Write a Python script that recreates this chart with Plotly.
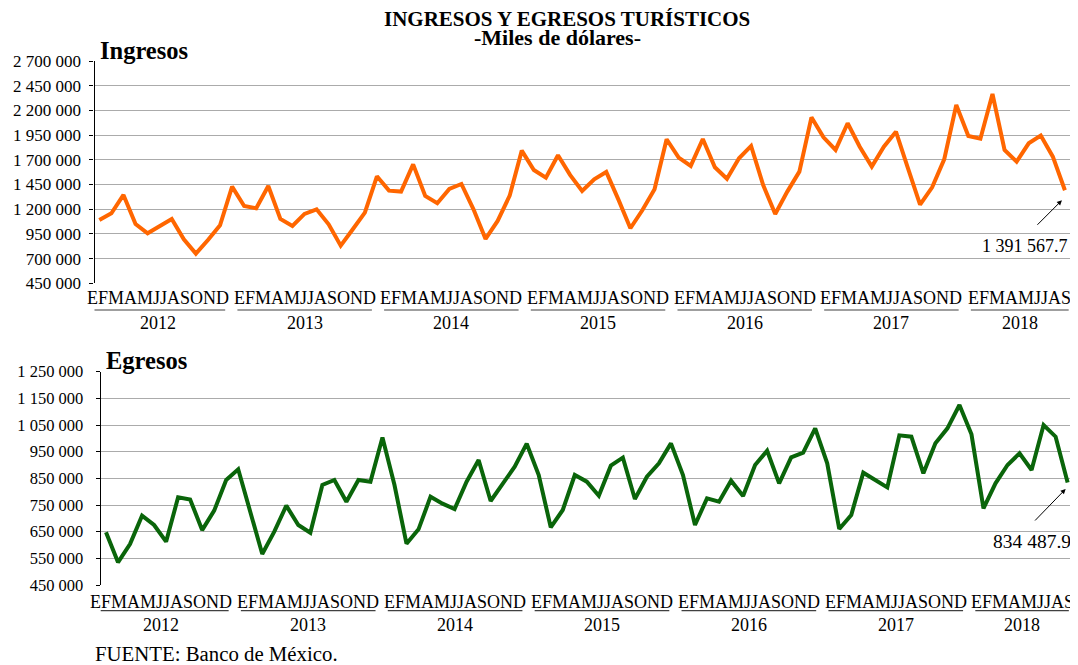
import plotly.graph_objects as go

# ---------------- data ----------------
years = ["2012", "2013", "2014", "2015", "2016", "2017", "2018"]
month_letters = ["E", "F", "M", "A", "M", "J", "J", "A", "S", "O", "N", "D"]

ingresos = [
    1091000, 1158500, 1344000, 1050600, 956000, 1033700, 1101000, 895000, 750000, 888600, 1037000, 1428000,
    1233000, 1209000, 1435000, 1101000, 1030000, 1152000, 1199000, 1047000, 831000, 996600, 1165000, 1533000,
    1388000, 1378000, 1654000, 1334000, 1260000, 1405000, 1455000, 1199000, 899000, 1081000, 1337000, 1793000,
    1597000, 1520000, 1746000, 1547000, 1385000, 1503000, 1577000, 1300000, 1007000, 1192000, 1401000, 1908000,
    1722000, 1638000, 1911000, 1624000, 1508000, 1715000, 1840000, 1445000, 1152000, 1378000, 1580000, 2130000,
    1928000, 1800000, 2070000, 1833000, 1631000, 1833000, 1985000, 1614000, 1246000, 1422000, 1705000, 2255000,
    1941000, 1914000, 2366000, 1800000, 1681000, 1867000, 1945000, 1732000, 1391567.7,
]

egresos = [
    647500, 535000, 603750, 710000, 675000, 612500, 778750, 771000, 656000, 729000, 844000, 884000,
    725000, 566000, 650000, 747500, 675000, 646000, 825000, 844000, 762500, 844000, 837500, 1003000,
    825000, 605000, 658750, 781250, 755000, 735000, 837500, 918750, 765000, 831250, 893750, 980000,
    862500, 666250, 731250, 862500, 837500, 785000, 897500, 927500, 772500, 856250, 906250, 981250,
    862500, 675000, 775000, 762500, 841250, 783750, 900000, 953750, 831250, 928750, 946250, 1037500,
    906250, 660000, 712500, 871250, 843750, 816250, 1011250, 1006250, 868750, 981250, 1037500, 1125000,
    1015000, 737500, 831250, 900000, 943750, 881250, 1050000, 1006250, 834487.9,
]

ingresos_last_label = "1 391 567.7"
egresos_last_label = "834 487.9"

# ---------------- geometry helpers ----------------
OFF = 8                      # page body margin
W, H = 1078 - OFF, 665 - OFF
FONT = "Liberation Serif, Times New Roman, serif"
ORANGE = "#FF6600"
GREEN = "#0A650A"


def fx(px):
    return (px - OFF) / W


def py(px):
    return 1 - (px - OFF) / H


n = len(ingresos)
idx = list(range(n))

groups = []
for k, yr in enumerate(years):
    m0 = 12 * k
    m1 = min(12 * k + 11, n - 1)
    groups.append((yr, m0, m1))

fig = go.Figure()
fig.add_trace(go.Scatter(x=idx, y=ingresos, mode="lines",
                         line=dict(color=ORANGE, width=4), xaxis="x", yaxis="y"))
fig.add_trace(go.Scatter(x=idx, y=egresos, mode="lines",
                         line=dict(color=GREEN, width=4), xaxis="x2", yaxis="y2"))

common_x = dict(showgrid=False, zeroline=False, showline=False,
                showticklabels=False, ticks="", automargin=False)
common_y = dict(tickformat=",d", showgrid=True, gridcolor="#ababab", gridwidth=1.3,
                showline=True, linecolor="black", linewidth=1.3, ticks="outside",
                ticklen=4, tickcolor="black", tickwidth=1.3, zeroline=False,
                automargin=False)

fig.update_layout(
    width=W, height=H, autosize=False,
    margin=dict(l=0, r=0, t=0, b=0, pad=0, autoexpand=False),
    paper_bgcolor="white", plot_bgcolor="white", showlegend=False,
    separators=". ",
    font=dict(family=FONT, color="black", size=17),
    xaxis=dict(domain=[fx(94.5), fx(1070.7)], range=[-0.4, 80.48], anchor="y", **common_x),
    yaxis=dict(domain=[py(283.3), py(61)], range=[450000, 2700000], dtick=250000,
               tick0=450000, anchor="x", tickfont=dict(size=17, family=FONT),
               ticklabelstandoff=5, **common_y),
    xaxis2=dict(domain=[fx(100.7), fx(1074)], range=[-0.44, 80.53], anchor="y2", **common_x),
    yaxis2=dict(domain=[py(585), py(371.7)], range=[450000, 1250000], dtick=100000,
                tick0=450000, anchor="x2", tickfont=dict(size=16.5, family=FONT),
                ticklabelstandoff=9, **common_y),
)

annotations = []
shapes = []

# month words, year underlines and year labels for each panel
panels = [
    # xref, offset, scale, end cap, month y, line y, year y
    ("x", -0.7125, 1.0128, n - 1 + 0.35, 298, 310, 323),
    ("x2", -0.9975, 1.0183, n - 1 + 0.1, 602, 610.7, 624.5),
]
for xref, off, sc, cap, ym, yl, yy in panels:
    for yr, m0, m1 in groups:
        x0 = off + sc * m0
        x1 = min(off + sc * m1, cap)
        xc = (x0 + x1) / 2
        word = "".join(month_letters[i % 12] for i in range(m0, m1 + 1))
        annotations.append(dict(x=xc, y=py(ym), xref=xref, yref="paper", text=word,
                                showarrow=False, xanchor="center", yanchor="middle",
                                font=dict(size=18, family=FONT, color="black")))
        annotations.append(dict(x=xc, y=py(yy), xref=xref, yref="paper", text=yr,
                                showarrow=False, xanchor="center", yanchor="middle",
                                font=dict(size=18, family=FONT, color="black")))
        shapes.append(dict(type="line", xref=xref, yref="paper", x0=x0, x1=x1,
                           y0=py(yl), y1=py(yl), line=dict(color="#404040", width=1.2)))

# titles and source
annotations += [
    dict(x=fx(566.5), y=py(19.5), xref="paper", yref="paper",
         text="<b>INGRESOS Y EGRESOS TURÍSTICOS</b>", showarrow=False,
         xanchor="center", yanchor="middle", font=dict(size=21, family=FONT)),
    dict(x=fx(557), y=py(37), xref="paper", yref="paper",
         text="<b>-Miles de dólares-</b>", showarrow=False,
         xanchor="center", yanchor="middle", font=dict(size=22, family=FONT)),
    dict(x=fx(98), y=py(51), xref="paper", yref="paper", text="<b>Ingresos</b>",
         showarrow=False, xanchor="left", yanchor="middle", font=dict(size=24.5, family=FONT)),
    dict(x=fx(104), y=py(360), xref="paper", yref="paper", text="<b>Egresos</b>",
         showarrow=False, xanchor="left", yanchor="middle", font=dict(size=24.5, family=FONT)),
    dict(x=fx(93), y=py(653), xref="paper", yref="paper", text="FUENTE: Banco de México.",
         showarrow=False, xanchor="left", yanchor="middle", font=dict(size=20.8, family=FONT)),
]

# last-value callouts
annotations += [
    dict(x=idx[-1], y=ingresos[-1], xref="x", yref="y", text="", showarrow=True,
         arrowhead=2, arrowsize=1, arrowwidth=1, arrowcolor="black",
         ax=-26, ay=26, xshift=-3, yshift=-10, standoff=0),
    dict(x=idx[-1], y=ingresos[-1], xref="x", yref="y", text=ingresos_last_label,
         showarrow=False, xanchor="right", yanchor="middle", xshift=5, yshift=-56,
         font=dict(size=18, family=FONT)),
    dict(x=idx[-1], y=egresos[-1], xref="x2", yref="y2", text="", showarrow=True,
         arrowhead=2, arrowsize=1, arrowwidth=1, arrowcolor="black",
         ax=-32, ay=33, xshift=-2, yshift=-6.5, standoff=0),
    dict(x=idx[-1], y=egresos[-1], xref="x2", yref="y2", text=egresos_last_label,
         showarrow=False, xanchor="right", yanchor="middle", xshift=5, yshift=-59.5,
         font=dict(size=19.5, family=FONT)),
]

fig.update_layout(annotations=annotations, shapes=shapes)
fig.write_html("out.html")
